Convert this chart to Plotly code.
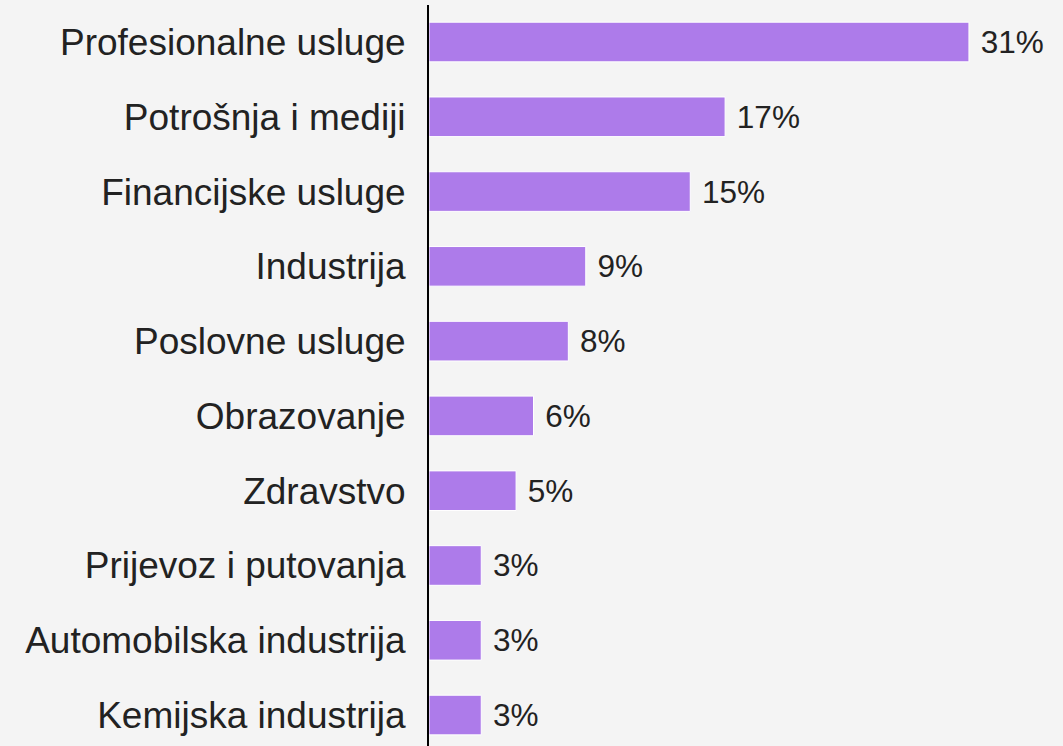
import plotly.graph_objects as go

categories = ["Profesionalne usluge", "Potrošnja i mediji", "Financijske usluge",
              "Industrija", "Poslovne usluge", "Obrazovanje", "Zdravstvo",
              "Prijevoz i putovanja", "Automobilska industrija", "Kemijska industrija"]
values = [31, 17, 15, 9, 8, 6, 5, 3, 3, 3]
value_labels = [f"{v}%" for v in values]

fig = go.Figure(go.Bar(
    x=values, y=categories, orientation="h",
    marker=dict(color="#AD7BEA", line=dict(color="white", width=1)),
    width=0.53,
    text=value_labels, texttemplate=" %{text}", textposition="outside",
    textfont=dict(family="Liberation Sans, Arial", size=31.5, color="#222222"),
    cliponaxis=False,
))

fig.update_layout(
    width=1063, height=746,
    margin=dict(l=429, r=0, t=5, b=0),
    paper_bgcolor="#F4F4F4", plot_bgcolor="#F4F4F4",
    showlegend=False,
    xaxis=dict(range=[0, 36.4], visible=False, showgrid=False, zeroline=False),
    yaxis=dict(type="category", range=[9.414, -0.495], showgrid=False, zeroline=False,
               showline=True, linecolor="black", linewidth=2, ticks="",
               ticklabelstandoff=14,
               tickfont=dict(family="Liberation Sans, Arial", size=37, color="#222222")),
)

fig.write_html(
    "out.html",
    config={"displayModeBar": False},
    post_script="document.body.style.margin='0';document.body.style.background='#F4F4F4';document.body.style.overflow='hidden';",
)
